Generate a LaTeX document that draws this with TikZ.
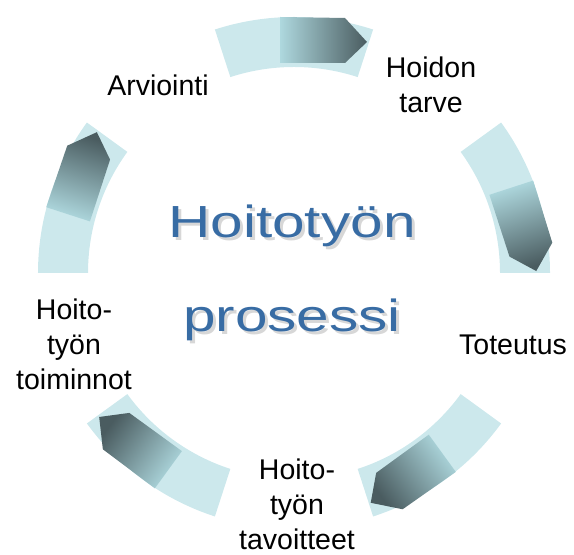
\documentclass[tikz,border=0pt]{standalone}
\usepackage{fontspec}
\setmainfont{Liberation Sans}
\newfontfamily\titlefont[FakeStretch=1.3]{Liberation Sans}
\usetikzlibrary{positioning}
\definecolor{segcyan}{HTML}{CCE8EC}
\definecolor{arrowlight}{HTML}{AED8DE}
\definecolor{arrowdark}{HTML}{4A5C60}
\definecolor{titleblue}{RGB}{56,108,164}

\begin{document}
\begin{tikzpicture}
			[x=1bp, y=1bp, align=center,
			seg/.style={fill=segcyan},
			lbl/.style={font=\fontsize{28.5bp}{35bp}\selectfont, inner sep=0pt, anchor=base},
			title/.style={font=\titlefont\fontsize{45bp}{94bp}\selectfont, inner sep=0pt, anchor=base}]
			\useasboundingbox (0,0) rectangle (574,555);
			\coordinate (c) at (294,282);
			% ring segments, each with its arrow pointing clockwise
			\foreach \k [evaluate=\k as \ang using 90-72*\k] in {0,...,4}{
				\begin{scope}[shift={(c)}, rotate=-72*\k]
					\fill[seg] (72:206) arc[start angle=72, end angle=108, radius=206]
						-- (108:256) arc[start angle=108, end angle=72, radius=256] -- cycle;
					\shade[left color=arrowlight, right color=arrowdark, shading angle=\ang]
						(-14,256) -- (51,255) -- (73,231) -- (51,210) -- (-14,210) -- cycle;
				\end{scope}
			}
			% title with its shadow (base = last line)
			\node[title, text=black!45, opacity=.35] (shd) at (295,220) {Hoitotyön\\prosessi};
			\node[title, text=titleblue] (ttl) at (292,223) {Hoitotyön\\prosessi};
			% step labels
			\node[lbl] (arv) at (158,459) {Arviointi};
			\node[lbl] (tarve) at (431,442) {Hoidon\\tarve};
			\node[lbl] (tot) at (513,200) {Toteutus};
			\node[lbl] (tav) at (297,5) {Hoito-\\työn\\tavoitteet};
			\node[lbl] (toim) at (74,165) {Hoito-\\työn\\toiminnot};
		\end{tikzpicture}
\end{document}
